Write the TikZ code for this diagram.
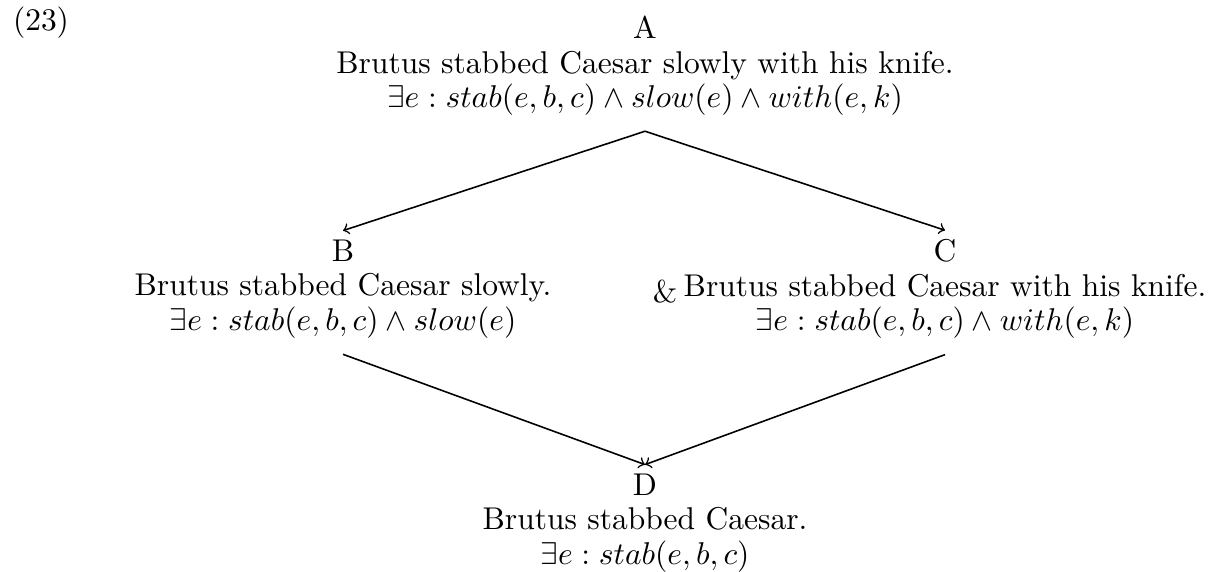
\documentclass[tikz,border=0pt]{standalone}
\begin{document}
\begin{tikzpicture}[x=0.3478pt,y=-0.3478pt,
  every node/.style={font=\fontsize{10.95}{12}\selectfont},
  entry/.style={align=center, inner sep=3pt},
  link/.style={->, line width=0.55pt}]
\useasboundingbox (0,0) rectangle (1217,571);
% example number
\node[anchor=base] (num) at (41,30) {(23)};
% the four sentences with their logical forms
\node[entry] (A) at (645,66)
  {A\\Brutus stabbed Caesar slowly with his knife.\\
   $\exists e : stab(e,b,c) \land slow(e) \land with(e,k)$};
\node[entry] (B) at (343,289)
  {B\\Brutus stabbed Caesar slowly.\\
   $\exists e : stab(e,b,c) \land slow(e)$};
\node[entry] (C) at (945,289)
  {C\\Brutus stabbed Caesar with his knife.\\
   $\exists e : stab(e,b,c) \land with(e,k)$};
\node[entry] (D) at (645,523)
  {D\\Brutus stabbed Caesar.\\
   $\exists e : stab(e,b,c)$};
\node[anchor=base] (amp) at (665,302) {\&};
% points a little below each source node, where its arrows leave
\coordinate (Aout) at ([yshift=-2.2pt]A.south);
\coordinate (Bout) at ([yshift=-2.4pt]B.south);
\coordinate (Cout) at ([yshift=-2.4pt]C.south);
% entailment arrows
\draw[link] (Aout) -- (B.north);
\draw[link] (Aout) -- (C.north);
\draw[link] (Bout) -- (D.north);
\draw[link] (Cout) -- (D.north);
\end{tikzpicture}
\end{document}
